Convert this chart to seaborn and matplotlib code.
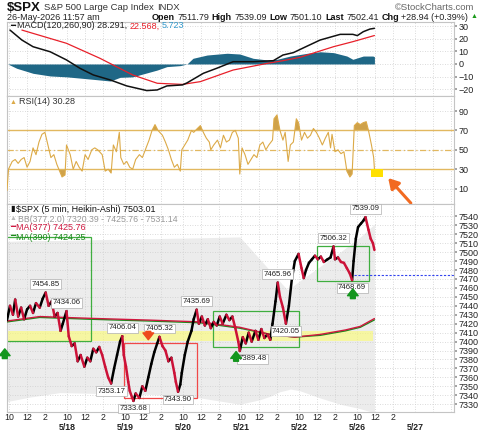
import numpy as np
import pandas as pd
import matplotlib.pyplot as plt
import seaborn as sns
from matplotlib.patches import Rectangle
from matplotlib.transforms import blended_transform_factory

# trading sessions on the chart (5/25 was a holiday)
days = ["05-15", "05-18", "05-19", "05-20", "05-21", "05-22", "05-26", "05-27"]
day_labels = ["", "5/18", "5/19", "5/20", "5/21", "5/22", "5/26", "5/27"]

# $SPX 5-min Heikin-Ashi path
price_time = [
    "05-15 09:45", "05-15 10:05", "05-15 10:25", "05-15 10:40", "05-15 11:00", "05-15 11:20", "05-15 11:40",
    "05-15 12:00", "05-15 12:20", "05-15 12:40", "05-15 13:00", "05-15 13:25", "05-15 13:45", "05-15 14:05",
    "05-15 14:25", "05-15 14:45", "05-15 15:05", "05-15 15:25", "05-15 15:45",
    "05-18 09:30", "05-18 09:55", "05-18 10:10", "05-18 10:30", "05-18 10:50", "05-18 11:10", "05-18 11:30",
    "05-18 11:55", "05-18 12:15", "05-18 12:35", "05-18 12:55", "05-18 13:15", "05-18 13:35", "05-18 13:55",
    "05-18 14:15", "05-18 14:35", "05-18 14:55", "05-18 15:15", "05-18 15:35", "05-18 15:55",
    "05-19 09:40", "05-19 09:50", "05-19 10:05", "05-19 10:20", "05-19 10:30", "05-19 10:45", "05-19 10:55",
    "05-19 11:10", "05-19 11:35", "05-19 11:55", "05-19 12:15", "05-19 12:35", "05-19 12:55", "05-19 13:15",
    "05-19 13:35", "05-19 13:50", "05-19 14:10", "05-19 14:30", "05-19 14:50", "05-19 15:10", "05-19 15:30",
    "05-19 15:40", "05-19 15:55",
    "05-20 09:40", "05-20 09:50", "05-20 10:10", "05-20 10:30", "05-20 10:55", "05-20 11:10", "05-20 11:30",
    "05-20 11:45", "05-20 12:05", "05-20 12:25", "05-20 12:45", "05-20 13:05", "05-20 13:25", "05-20 13:45",
    "05-20 14:05", "05-20 14:25", "05-20 14:50", "05-20 15:10", "05-20 15:30", "05-20 15:50",
    "05-21 09:40", "05-21 09:50", "05-21 10:10", "05-21 10:30", "05-21 10:50", "05-21 11:10", "05-21 11:35",
    "05-21 11:55", "05-21 12:15", "05-21 12:35", "05-21 12:55", "05-21 13:15", "05-21 13:30", "05-21 13:50",
    "05-21 14:05", "05-21 14:20", "05-21 14:40", "05-21 15:00", "05-21 15:20", "05-21 15:40",
    "05-22 09:30", "05-22 09:55", "05-22 10:15", "05-22 10:30", "05-22 10:45", "05-22 11:05", "05-22 11:25",
    "05-22 11:45", "05-22 12:05", "05-22 12:25", "05-22 12:45", "05-22 13:10", "05-22 13:30", "05-22 13:50",
    "05-22 14:00", "05-22 14:20", "05-22 14:40", "05-22 15:00", "05-22 15:20", "05-22 15:40", "05-22 15:55",
    "05-26 09:35", "05-26 09:50", "05-26 10:05", "05-26 10:25", "05-26 10:40", "05-26 10:55", "05-26 11:15",
    "05-26 11:30", "05-26 11:45", "05-26 11:55",
]
price = [
    7424, 7440, 7430, 7447, 7428, 7438, 7425, 7436, 7440, 7432, 7443, 7438, 7448, 7454.85, 7440, 7445, 7428, 7432, 7412,
    7420, 7434.06, 7406, 7395, 7398, 7378, 7385, 7372, 7382, 7378, 7392, 7388, 7394, 7385, 7372, 7360, 7353.17,
    7370, 7385, 7400,
    7406.04, 7385, 7372, 7355, 7345, 7338, 7333.68, 7342, 7337, 7350, 7345, 7360, 7375, 7388, 7398, 7405.32,
    7395, 7390, 7378, 7382, 7365, 7355, 7343.90,
    7352, 7365, 7385, 7400, 7412, 7425, 7435.69, 7420, 7428, 7418, 7425, 7415, 7422, 7418, 7428, 7420, 7430,
    7424, 7428, 7415,
    7400, 7389.48, 7405, 7398, 7410, 7400, 7412, 7402, 7414, 7404, 7408, 7402, 7420, 7445, 7465.96, 7450, 7438,
    7420.05, 7440, 7470,
    7490, 7498, 7482, 7471, 7480, 7488, 7492, 7496, 7492, 7495, 7489, 7492, 7494, 7506.32, 7492, 7494, 7489,
    7488, 7482, 7476, 7468.69,
    7490, 7515, 7528, 7532, 7535, 7539.09, 7525, 7515, 7510, 7502.41,
]

# moving averages and Bollinger band
ma_time = ["05-15 09:45", "05-15 13:25", "05-18 12:35", "05-19 12:45", "05-20 11:55", "05-21 09:50",
           "05-21 13:15", "05-22 09:30", "05-22 12:20", "05-22 15:10", "05-26 10:20", "05-26 11:55"]
ma377 = [7423, 7428, 7426, 7424, 7422, 7416, 7408, 7405, 7408, 7413, 7417, 7425.76]
ma390 = [7422, 7427, 7425, 7423, 7421, 7415, 7408, 7405, 7407, 7412, 7416, 7424.25]

bb_time = ["05-15 09:45", "05-15 12:20", "05-15 15:40", "05-18 13:40", "05-19 12:45", "05-20 11:55",
           "05-21 09:50", "05-21 12:05", "05-21 13:15", "05-21 14:20", "05-21 15:10", "05-21 15:30",
           "05-22 10:05", "05-22 12:20", "05-22 14:35", "05-26 10:20", "05-26 11:55"]
bb_upper = [7512, 7513, 7513, 7514, 7515, 7516, 7517, 7492, 7479, 7467, 7458, 7460, 7468, 7484, 7500, 7517, 7531.14]
bb_lower = [7333, 7338, 7343, 7342, 7341, 7337, 7330, 7335, 7339, 7344, 7346, 7347, 7345, 7337, 7330, 7325, 7320.39]

# MACD(120,260,90)
macd_time = ["05-15 10:05", "05-15 11:25", "05-15 12:40", "05-15 14:35", "05-18 09:55", "05-18 11:25",
             "05-18 12:55", "05-18 14:50", "05-19 10:10", "05-19 12:25", "05-19 13:35", "05-19 14:40",
             "05-20 09:55", "05-20 10:25", "05-20 12:15", "05-20 13:45", "05-20 15:35", "05-21 11:20",
             "05-21 13:35", "05-21 14:40", "05-21 15:50", "05-22 10:55", "05-22 12:20", "05-22 13:50",
             "05-22 14:35", "05-26 09:30", "05-26 10:00", "05-26 10:40", "05-26 11:25", "05-26 11:55"]
macd = [26.9, 19, 13.7, 9.7, 3.2, -3.4, -8.7, -12.7, -17.4, -21.1, -20.6, -17.4, -16.6, -15, -7.4, -3.4,
        1.8, 1.8, 2.6, 7.1, 9, 14.3, 19, 22, 23.5, 23.5, 22.5, 25.6, 27.7, 28.291]
signal_time = ["05-15 11:25", "05-18 09:55", "05-18 13:40", "05-19 10:50", "05-19 13:35", "05-20 09:55",
               "05-20 11:55", "05-20 15:35", "05-21 12:55", "05-21 14:40", "05-22 10:05", "05-22 13:50",
               "05-26 09:30", "05-26 11:55"]
signal = [26.9, 16.4, 4.5, -8.7, -15.3, -16.2, -14, -4.8, 0.5, 2.6, 5.3, 13.7, 17.7, 22.568]
hist_time = ["05-15 09:50", "05-15 10:50", "05-15 12:40", "05-15 14:35", "05-18 09:55", "05-18 11:45",
             "05-18 13:40", "05-18 14:50", "05-18 15:55", "05-19 10:50", "05-19 12:00", "05-19 13:35",
             "05-19 14:40", "05-20 09:40", "05-20 10:25", "05-20 11:05", "05-20 12:40", "05-20 14:55",
             "05-21 09:50", "05-21 11:20", "05-21 12:55", "05-21 14:00", "05-21 15:30", "05-22 10:55",
             "05-22 12:20", "05-22 13:50", "05-22 15:20", "05-26 09:30", "05-26 10:40", "05-26 11:45",
             "05-26 11:55"]
hist = [0, -3.4, -7.4, -9.5, -10.2, -11.4, -12.7, -13.5, -10.6, -10.2, -7.9, -4.8, -2.1, -1.3, 0, 4.5, 7.1,
        8.5, 7.9, 4.5, 3.2, 3.7, 6.3, 8.5, 9.7, 9, 6.3, 3.7, 6.3, 6.3, 5.723]

# RSI(14)
rsi_time = [
    "05-15 09:45", "05-15 09:55", "05-15 10:20", "05-15 10:40", "05-15 11:00", "05-15 11:20", "05-15 11:40",
    "05-15 12:00", "05-15 12:20", "05-15 12:40", "05-15 13:00", "05-15 13:20", "05-15 13:40", "05-15 14:00",
    "05-15 14:20", "05-15 14:40", "05-15 15:00", "05-15 15:20", "05-15 15:55",
    "05-18 09:45", "05-18 09:55", "05-18 10:20", "05-18 10:40", "05-18 11:00", "05-18 11:20", "05-18 11:40",
    "05-18 12:00", "05-18 12:20", "05-18 12:45", "05-18 13:05", "05-18 13:25", "05-18 13:55", "05-18 14:15",
    "05-18 14:35", "05-18 14:55", "05-18 15:10", "05-18 15:30", "05-18 15:50",
    "05-19 09:30", "05-19 09:50", "05-19 10:10", "05-19 10:30", "05-19 10:50", "05-19 11:10", "05-19 11:35",
    "05-19 11:55", "05-19 12:15", "05-19 12:40", "05-19 13:00", "05-19 13:20", "05-19 13:40", "05-19 14:10",
    "05-19 14:30", "05-19 14:50", "05-19 15:10", "05-19 15:30", "05-19 15:50",
    "05-20 09:40", "05-20 09:50", "05-20 10:10", "05-20 10:30", "05-20 10:55", "05-20 11:10", "05-20 11:35",
    "05-20 11:55", "05-20 12:15", "05-20 12:35", "05-20 12:55", "05-20 13:05", "05-20 13:25", "05-20 13:50",
    "05-20 14:10", "05-20 14:30", "05-20 14:50", "05-20 15:10", "05-20 15:30", "05-20 15:50",
    "05-21 09:40", "05-21 09:50", "05-21 10:05", "05-21 10:25", "05-21 10:45", "05-21 11:05", "05-21 11:25",
    "05-21 11:45", "05-21 12:05", "05-21 12:25", "05-21 12:45", "05-21 13:05", "05-21 13:30", "05-21 13:40",
    "05-21 14:00", "05-21 14:20", "05-21 14:40", "05-21 14:55", "05-21 15:15", "05-21 15:30", "05-21 15:50",
    "05-22 09:40", "05-22 09:55", "05-22 10:15", "05-22 10:35", "05-22 10:55", "05-22 11:15", "05-22 11:35",
    "05-22 11:55", "05-22 12:15", "05-22 12:35", "05-22 12:55", "05-22 13:15", "05-22 13:30", "05-22 13:40",
    "05-22 14:00", "05-22 14:20", "05-22 14:40", "05-22 15:00", "05-22 15:20", "05-22 15:40", "05-22 15:55",
    "05-26 09:40", "05-26 10:00", "05-26 10:20", "05-26 10:40", "05-26 11:00", "05-26 11:15", "05-26 11:35",
    "05-26 11:50", "05-26 11:55",
]
rsi = [
    8, 30, 38, 40, 36, 40, 42, 32, 38, 52, 45, 58, 66, 68, 55, 42, 45, 35, 22,
    24, 55, 45, 30, 38, 32, 28, 45, 40, 50, 52, 50, 45, 28, 30, 26, 55, 48, 68,
    42, 35, 38, 32, 30, 40, 45, 42, 50, 60, 70, 76, 70, 65, 58, 50, 40, 32, 35,
    28, 50, 55, 60, 70, 68, 72, 75, 68, 62, 58, 50, 55, 60, 52, 65, 58, 60, 68, 70,
    62, 25, 52, 45, 35, 40, 45, 42, 55, 58, 50, 55, 60, 82, 86, 70, 60, 68, 38, 55, 58,
    82, 78, 60, 68, 62, 65, 72, 68, 62, 55, 62, 68, 52, 66, 48, 50, 46, 48, 28, 22, 25,
    75, 78, 76, 78, 79, 70, 55, 42, 30.28,
]

# annotations on the price panel
high_time = ["05-15 14:05", "05-18 09:55", "05-19 09:40", "05-19 13:50", "05-20 11:30", "05-21 14:05",
             "05-22 13:50", "05-26 10:55"]
high_value = [7454.85, 7434.06, 7406.04, 7405.32, 7435.69, 7465.96, 7506.32, 7539.09]
low_time = ["05-18 14:55", "05-19 10:55", "05-19 15:55", "05-21 09:50", "05-21 15:00", "05-22 15:55"]
low_value = [7353.17, 7333.68, 7343.90, 7389.48, 7420.05, 7468.69]
zone_start = ["05-15 09:30", "05-19 09:50", "05-20 13:20", "05-22 12:00"]
zone_end = ["05-18 12:40", "05-20 11:35", "05-22 10:00", "05-26 11:20"]
zone_low = [7401, 7337, 7394, 7468]
zone_high = [7516.5, 7398, 7434, 7507]
zone_kind = ["green", "red", "green", "green"]
band = ("05-15 09:30", "05-26 11:45", 7400.4, 7411.3)
up_arrow_time = ["05-15 09:30", "05-20 15:55", "05-26 09:30"]
up_arrow_value = [7395, 7392, 7462]
down_arrow_time = ["05-19 12:35"]
down_arrow_value = [7399]
open_line = ("05-26 09:35", 7474)


def bar(t):
    d, hm = t.split()
    h, m = map(int, hm.split(":"))
    return days.index(d) * 78 + (h * 60 + m - 570) / 5


def bars(ts):
    return np.array([bar(t) for t in ts])


sns.set_theme(style="white")
plt.rcParams['font.family'] = ['Liberation Sans', 'DejaVu Sans']

W, H = 480, 434
fig = plt.figure(figsize=(W / 100, H / 100), dpi=100)


def panel(top, bottom, share=None):
    return fig.add_axes([7 / W, 1 - bottom / H, 447 / W, (bottom - top) / H], sharex=share)


ax_m = panel(22, 96)
ax_r = panel(96, 204, ax_m)
ax_p = panel(204, 412, ax_m)

grid_kw = dict(color="#cfcfcf", linestyle=(0, (1, 2)), linewidth=0.6)
hour_ticks = [bar(f"{d} {h:02d}:00") for d in days for h in (10, 12, 14)]
hour_labels = [("" if d == "05-27" else str(h if h <= 12 else h - 12)) for d in days for h in (10, 12, 14)]

for ax in (ax_m, ax_r, ax_p):
    ax.set_xlim(bar("05-15 09:45"), bar("05-27 14:20"))
    ax.yaxis.tick_right()
    ax.tick_params(axis="y", labelsize=6.5, pad=1, length=2, color="#999999", labelcolor="#222222")
    ax.tick_params(axis="x", length=0)
    ax.set_xticks(hour_ticks)
    ax.grid(True, **grid_kw)
    for s in ax.spines.values():
        s.set_color("#c4c4c4")
        s.set_linewidth(0.8)

for ax in (ax_m, ax_r):
    ax.tick_params(axis="x", labelbottom=False)

# ---------------- MACD ----------------
ax_m.set_ylim(-25.4, 33.3)
ax_m.set_yticks([-20, -10, 0, 10, 20, 30])
ax_m.fill_between(bars(hist_time), 0, hist, color="#1f6786", lw=0, zorder=1.5)
sns.lineplot(x=bars(signal_time), y=signal, color="#e8202a", lw=0.9, ax=ax_m, zorder=3)
sns.lineplot(x=bars(macd_time), y=macd, color="#111111", lw=1.1, ax=ax_m, zorder=4)

# ---------------- RSI ----------------
gold = "#dcaa48"
ax_r.set_ylim(-5.9, 105.5)
ax_r.set_yticks([10, 30, 50, 70, 90])
rx = bars(rsi_time)
ra = np.array(rsi)
ax_r.fill_between(rx, 70, ra, where=ra > 70, interpolate=True, color="#cfa24a", lw=0, zorder=2)
ax_r.fill_between(rx, 30, ra, where=ra < 30, interpolate=True, color="#cfa24a", lw=0, zorder=2)
ax_r.axhline(70, color="#e2b860", lw=1.0, zorder=2.5)
ax_r.axhline(30, color="#e2b860", lw=1.0, zorder=2.5)
ax_r.axhline(50, color="#e2b860", lw=0.9, ls=(0, (5, 2, 1, 2)), zorder=2.5)
sns.lineplot(x=rx, y=rsi, color=gold, lw=0.8, ax=ax_r, zorder=3)
ax_r.add_patch(Rectangle((bar("05-26 11:30"), 22), bar("05-26 12:55") - bar("05-26 11:30"), 8,
                         fc="#ffe000", ec="none", zorder=5))
ax_r.annotate("", xy=(bar("05-26 13:15"), 23), xytext=(19, -21), textcoords="offset points",
              annotation_clip=False,
              arrowprops=dict(arrowstyle="-|>,head_length=0.6,head_width=0.35", color="#f26a21", lw=2.2,
                              mutation_scale=10, clip_on=False), zorder=6)

# ---------------- Price ----------------
ax_p.set_ylim(7321.3, 7553.8)
ax_p.set_yticks(np.arange(7330, 7541, 10))
ax_p.fill_between(bars(bb_time), bb_lower, bb_upper, color="#ececec", lw=0, zorder=0.2)
b0, b1, blo, bhi = band
ax_p.add_patch(Rectangle((bar(b0), blo), bar(b1) - bar(b0), bhi - blo, fc="#ffff66", alpha=0.55,
                         ec="none", zorder=1))
for s, e, lo, hi, kind in zip(zone_start, zone_end, zone_low, zone_high, zone_kind):
    ec = "#3fae3f" if kind == "green" else "#f04848"
    ax_p.add_patch(Rectangle((bar(s), lo), bar(e) - bar(s), hi - lo, fc="none", ec=ec, lw=0.9, zorder=2))

sns.lineplot(x=bars(ma_time), y=ma390, color="#1a8a1a", lw=1.0, ax=ax_p, zorder=3)
sns.lineplot(x=bars(ma_time), y=ma377, color="#d01840", lw=1.0, ax=ax_p, zorder=3.1)

ax_p.plot([bar(open_line[0]), bar("05-27 14:20")], [open_line[1]] * 2, color="#3344ee", lw=0.8,
          ls=(0, (2, 1.5)), zorder=2)

# Heikin-Ashi path: black while rising, red while falling
px = bars(price_time)
rows = []
for i in range(len(px) - 1):
    d = "up" if price[i + 1] >= price[i] else "down"
    rows.append((i, px[i], price[i], d))
    rows.append((i, px[i + 1], price[i + 1], d))
seg = pd.DataFrame(rows, columns=["seg", "x", "p", "dir"])
sns.lineplot(data=seg, x="x", y="p", units="seg", hue="dir", estimator=None, sort=False,
             palette={"up": "#000000", "down": "#cc1238"}, lw=1.8, legend=False, ax=ax_p, zorder=4,
             solid_capstyle="round")

box = dict(boxstyle="square,pad=0.18", fc="white", ec="#b0b0b0", lw=0.5)
for t, v in zip(high_time, high_value):
    ax_p.annotate(f"{v:.2f}", (bar(t), v), xytext=(0, 3.5), textcoords="offset points", ha="center",
                  va="bottom", fontsize=5.6, color="#222222", bbox=box, zorder=7)
for t, v in zip(low_time, low_value):
    dx = 9 if v == 7389.48 else 0
    ax_p.annotate(f"{v:.2f}", (bar(t), v), xytext=(dx, -3), textcoords="offset points", ha="center",
                  va="top", fontsize=5.6, color="#222222", bbox=box, zorder=7)

arrow_style = "simple,head_length=0.7,head_width=1.1,tail_width=0.5"
for t, v in zip(up_arrow_time, up_arrow_value):
    ax_p.annotate("", xy=(bar(t), v), xytext=(0, -11), textcoords="offset points", annotation_clip=False,
                  arrowprops=dict(arrowstyle=arrow_style, color="#14961e", mutation_scale=7, clip_on=False),
                  zorder=8)
for t, v in zip(down_arrow_time, down_arrow_value):
    ax_p.annotate("", xy=(bar(t), v), xytext=(0, 10), textcoords="offset points", annotation_clip=False,
                  arrowprops=dict(arrowstyle=arrow_style, color="#ee4a1c", mutation_scale=7, clip_on=False),
                  zorder=8)

ax_p.set_xticklabels(hour_labels)
ax_p.tick_params(axis="x", labelsize=6.3, pad=1, labelcolor="#222222")
for ax in (ax_m, ax_r, ax_p):
    ax.set_xlabel("")
    ax.set_ylabel("")

# date row along the bottom edge of the figure
trans = blended_transform_factory(ax_p.transData, fig.transFigure)
for d, lab in zip(days, day_labels):
    ax_p.text(bar(d + " 10:00"), 1.5 / H, lab, transform=trans, ha="center", va="bottom", fontsize=6.3,
              fontweight="bold", color="#222222")

# ---------------- text rows ----------------
renderer = fig.canvas.get_renderer()


def put_row(x, y, parts, gap=3):
    for s, size, color, weight in parts:
        t = fig.text(x / W, 1 - y / H, s, fontsize=size, color=color, fontweight=weight, va="center", ha="left")
        x += t.get_window_extent(renderer).width + gap


put_row(7, 8, [("$SPX", 9.5, "#111111", "bold"), ("S&P 500 Large Cap Index", 6.8, "#333333", "normal"),
               ("INDX", 6.8, "#333333", "normal")])
fig.text(474 / W, 1 - 7 / H, "©StockCharts.com", fontsize=6.8, color="#666666", ha="right", va="center")
put_row(7, 17, [("26-May-2026 11:57 am", 6.5, "#222222", "normal")])
put_row(152, 17, [("Open", 6.5, "#111111", "bold"), ("7511.79", 6.5, "#222222", "normal"),
                  ("High", 6.5, "#111111", "bold"), ("7539.09", 6.5, "#222222", "normal"),
                  ("Low", 6.5, "#111111", "bold"), ("7501.10", 6.5, "#222222", "normal"),
                  ("Last", 6.5, "#111111", "bold"), ("7502.41", 6.5, "#222222", "normal"),
                  ("Chg", 6.5, "#111111", "bold"), ("+28.94 (+0.39%)", 6.5, "#222222", "normal"),
                  ("▲", 5, "#1a9a1a", "normal")], gap=2.5)
put_row(10, 26, [("━", 6, "#111111", "normal"), ("MACD(120,260,90) 28.291,", 6.5, "#222222", "normal"),
                 ("22.568,", 6.5, "#e8202a", "normal"), ("5.723", 6.5, "#3399cc", "normal")], gap=2)
put_row(10, 102, [("▲", 5, gold, "normal"), ("RSI(14) 30.28", 6.5, "#333333", "normal")], gap=2)
put_row(10, 210, [("▮", 6, "#111111", "normal"), ("$SPX (5 min, Heikin-Ashi) 7503.01", 6.5, "#111111", "normal")], gap=1)
put_row(10, 219, [("▲", 5, "#bbbbbb", "normal"), ("BB(377,2.0) 7320.39 - 7425.76 - 7531.14", 6.3, "#999999", "normal")], gap=1)
put_row(10, 228, [("━", 6, "#d01840", "normal"), ("MA(377) 7425.76", 6.5, "#d01840", "normal")], gap=1)
put_row(10, 237, [("━", 6, "#1a8a1a", "normal"), ("MA(390) 7424.25", 6.5, "#1a8a1a", "normal")], gap=1)

fig.savefig("out.png", dpi=100)
